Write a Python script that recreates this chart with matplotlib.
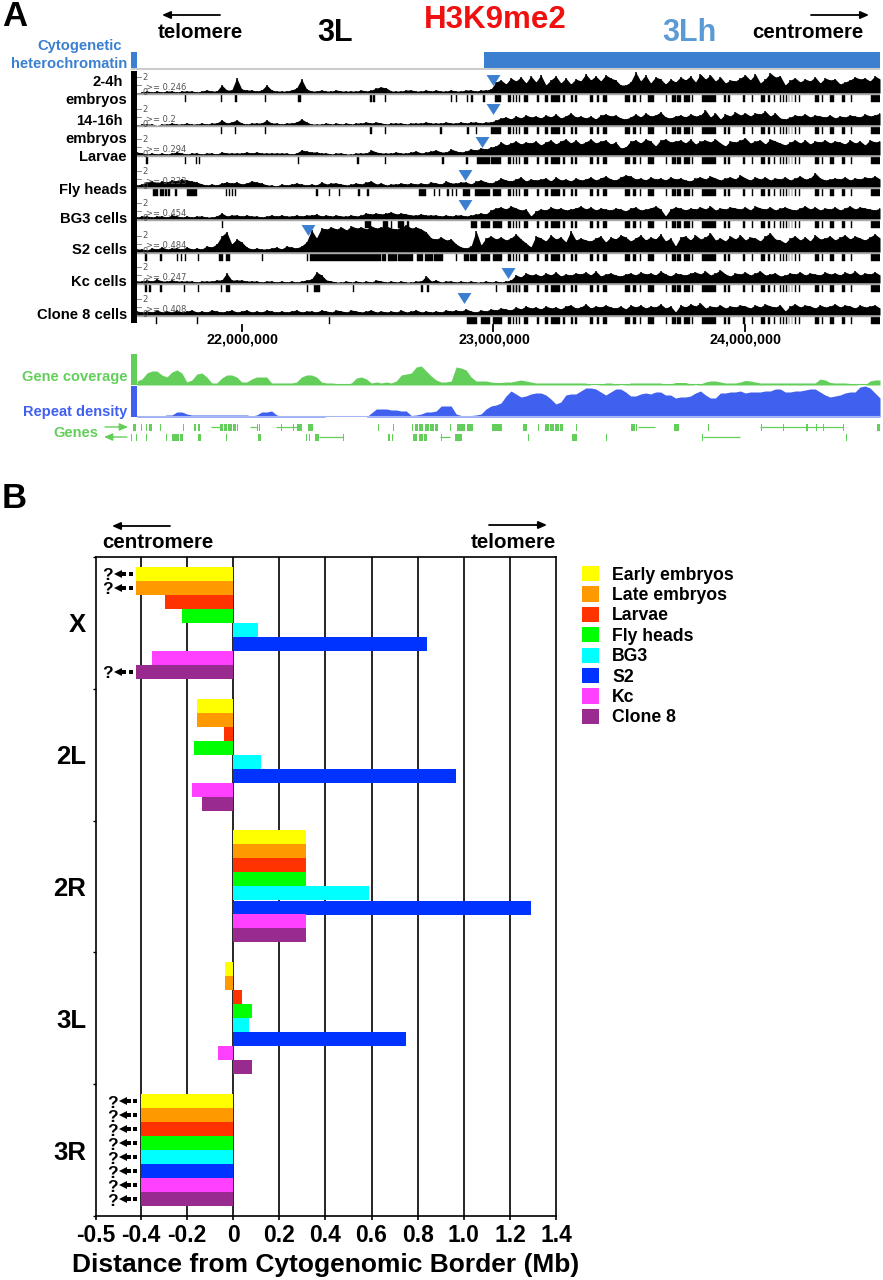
"""
H3K9me2 enrichment at the euchromatin / heterochromatin border.

A. ChIP signal across the 3L border for eight samples, with gene and repeat tracks
B. Distance of the enrichment border from the cytogenomic border on each arm
"""

import numpy as np
import matplotlib
matplotlib.use("Agg")
import matplotlib.pyplot as plt
from matplotlib.patches import Patch

plt.rcParams["font.family"] = ["Liberation Sans", "DejaVu Sans"]
plt.rcParams["font.weight"] = "bold"
plt.rcParams["axes.labelweight"] = "bold"

W, H = 883, 1280

# panel A, signal heights along 3L (16 = the top of the 0-2 scale)
signal_1 = [0,1,2,1,2,1,2,2,1,2, 2,2,1,2,3,2,2,8,3,3, 15,4,3,3,2,3,8,3,2,2, 2,3,5,14,4,2,2,3,2,2,
            3,2,2,2,2,3,2,3,5,6, 5,2,2,2,3,3,2,2,3,2, 3,2,2,3,2,2,3,3,2,3, 3,4,11,13,9,15,12,16,10,17,
            11,18,8,13,17,10,15,9,14,12, 19,13,17,12,18,15,13,8,8,11, 21,12,18,10,16,14,9,14,11,16,
            13,17,11,19,14,18,12,16,10,13, 12,15,18,13,19,10,14,20,16,17, 8,13,15,11,14,12,16,10,15,13,
            14,9,11,13,16,14,15,12,17,14]
signal_2 = [0,1,1,1,0,1,1,2,1,1, 2,1,1,2,1,2,2,5,2,3, 5,2,1,2,2,2,5,2,2,1, 2,2,3,6,3,1,1,1,2,1,
            2,1,2,1,2,2,3,2,3,2, 1,2,2,2,1,2,2,2,3,2, 2,2,3,2,2,3,2,3,3,2, 3,3,5,7,8,6,9,7,10,8,
            9,7,10,8,11,7,9,12,8,9, 7,9,6,10,11,9,10,7,6,8, 11,8,12,9,10,13,8,7,9,10,
            8,11,9,10,15,8,12,6,11,9, 13,10,12,9,12,11,14,9,12,7, 6,8,10,9,11,8,10,9,8,10,
            7,9,8,10,9,8,11,9,10,12]
signal_3 = [3,2,1,2,1,2,1,2,3,2, 1,2,2,1,2,2,1,3,2,2, 2,2,3,2,3,2,2,2,2,2, 2,1,2,5,4,3,3,2,2,1,
            2,2,1,1,2,2,2,5,3,2, 2,2,3,2,2,3,4,2,3,4, 5,3,3,6,4,3,4,6,5,7, 6,8,9,13,10,12,14,11,13,12,
            14,10,13,15,11,14,16,12,15,11, 13,16,12,14,15,11,13,7,8,14, 15,12,16,14,9,15,16,13,14,15,
            12,16,11,14,15,13,16,12,9,14, 13,15,17,12,14,15,11,16,14,12, 10,13,15,12,15,11,14,13,15,12,
            14,13,11,15,12,14,10,15,13,14]
signal_4 = [2,3,5,6,4,6,5,7,6,8, 7,6,5,3,2,3,2,4,5,4, 5,3,4,6,5,4,2,2,1,3, 2,3,4,3,2,3,2,5,3,4,
            4,3,2,3,4,3,5,6,3,4, 2,3,3,4,3,4,3,4,3,5, 4,3,6,4,4,5,5,3,6,7, 5,4,6,9,7,6,8,10,6,8,
            7,8,9,6,10,7,8,6,9,7, 8,10,7,9,11,8,7,10,12,11, 8,9,7,10,8,9,7,10,8,9,
            7,6,9,10,8,11,9,7,9,10, 8,12,9,7,10,8,10,7,9,8, 10,7,9,11,8,9,14,9,7,8,
            9,8,10,7,9,8,10,9,11,8]
signal_5 = [2,3,3,2,3,3,2,4,3,2, 3,2,3,3,2,2,3,6,3,4, 4,3,4,3,3,2,3,4,3,4, 3,3,4,3,4,4,5,3,4,3,
            4,3,3,4,3,4,6,5,6,5, 6,7,5,6,5,4,4,5,4,4, 4,3,4,3,4,4,3,4,5,6, 5,9,11,12,10,13,11,9,10,3,
            8,10,9,12,10,11,9,10,11,13, 10,12,9,11,10,9,11,10,8,11, 12,9,10,11,13,10,3,10,12,11,
            9,11,10,12,10,13,9,11,10,12, 11,10,12,9,13,11,10,12,9,11, 12,10,9,11,13,10,12,9,11,10,
            12,9,11,13,10,12,11,10,9,11]
signal_6 = [3,3,2,4,3,5,3,4,4,3, 5,3,4,3,6,5,8,16,20,8, 13,10,5,3,4,3,3,4,5,3, 6,5,4,6,10,22,14,24,23,25,
            23,25,22,26,24,25,23,26,24,25, 26,24,23,25,27,24,25,23,20,14, 13,15,12,13,8,5,4,6,21,7,
            14,16,13,15,12,14,18,13,9,5, 16,14,11,17,13,15,10,21,12,14, 12,11,14,16,10,15,13,17,15,11,
            14,17,12,15,13,18,11,14,6,15, 16,12,17,13,15,19,12,14,11,16, 13,17,12,15,14,11,16,19,13,12,
            9,14,16,12,15,11,17,13,14,16, 12,15,17,13,16,14,12,15,18,14]
signal_7 = [2,2,3,2,4,2,2,3,2,2, 2,2,1,2,2,2,3,3,10,3, 3,3,2,2,2,1,2,2,1,2, 1,2,1,2,3,4,11,8,3,2,
            1,1,2,1,2,1,2,1,3,2, 1,2,1,2,1,1,2,2,7,2, 3,1,2,2,1,2,1,2,1,1, 2,1,2,1,2,3,8,6,10,8,
            9,7,10,8,11,7,9,8,10,9, 11,8,12,7,9,10,8,7,9,10, 8,11,9,10,8,12,9,7,10,9,
            8,10,11,9,12,8,10,13,9,7, 10,9,11,8,10,12,8,9,10,7, 8,10,9,11,8,10,9,8,11,9,
            10,8,11,9,12,8,10,9,11,8]
signal_8 = [4,3,4,3,5,3,4,3,5,3, 4,5,3,4,3,5,4,3,4,5, 3,4,5,3,4,3,5,4,3,4, 3,4,5,3,4,4,3,5,4,3,
            5,4,3,5,4,3,4,5,3,4, 3,4,3,5,3,4,5,3,4,3, 4,3,5,4,5,4,6,4,3,5, 4,6,5,7,6,5,8,6,9,7,
            8,6,9,7,8,6,9,10,7,8, 11,7,9,8,10,8,7,9,6,10, 8,10,7,9,8,11,7,9,3,10,
            8,11,9,12,7,9,8,10,7,9, 8,10,9,7,10,8,11,9,8,10, 4,9,11,8,10,9,7,10,8,9,
            11,8,10,9,7,10,8,9,10,7]

# enriched regions in Mb, (start, end)
blocks_1 = [(21.773,21.778),(21.916,21.921),(21.975,21.980),(22.091,22.096),(22.223,22.234),(22.510,22.518),(22.522,22.530),
            (22.570,22.575),(22.830,22.835),(22.850,22.855),(22.895,22.900),(22.913,22.918),(22.961,22.966),(23.007,23.030)]
blocks_2 = [(21.916,21.921),(21.975,21.979),(22.091,22.096),(22.512,22.517),(22.570,22.574),(22.790,22.795),(22.897,22.902),
            (22.933,22.937),(22.990,23.030)]
blocks_3 = [(21.620,21.628),(21.773,21.777),(21.820,21.824),(21.830,21.834),(22.222,22.227),(22.460,22.465),(22.568,22.573),
            (22.798,22.803),(22.893,22.898),(22.935,22.985),(22.990,23.030)]
blocks_4 = [(21.647,21.667),(21.675,21.691),(21.695,21.703),(21.709,21.715),(21.736,21.741),(21.783,21.822),(21.938,21.942),
            (21.950,21.954),(21.961,21.965),(21.973,21.977),(22.297,22.302),(22.349,22.353),(22.385,22.389),(22.464,22.469),
            (22.500,22.505),(22.705,22.733),(22.766,22.770),(22.786,22.790),(22.818,22.823),(22.834,22.838),(22.850,22.855),
            (22.880,22.907),(22.927,22.987),(22.999,23.030)]
blocks_5 = [(21.920,21.925),(22.490,22.514),(22.562,22.581),(22.592,22.598),(22.620,22.645),(22.659,22.664),
            (22.911,22.935),(22.951,22.987),(22.999,23.034)]
blocks_6 = [(21.617,21.623),(21.677,21.682),(21.741,21.746),(21.757,21.762),(21.773,21.778),(21.828,21.832),(21.910,21.926),
            (21.938,21.954),(22.079,22.084),(22.258,22.265),(22.271,22.554),(22.558,22.574),(22.581,22.617),(22.621,22.681),
            (22.697,22.720),(22.728,22.760),(22.764,22.800),(22.850,22.855),(22.884,22.904),(22.907,22.935),(22.951,22.987),(22.999,23.034)]
blocks_7 = [(21.617,21.623),(21.633,21.639),(21.677,21.683),(21.769,21.773),(21.828,21.832),(21.916,21.921),(21.938,21.954),
            (22.258,22.262),(22.287,22.311),(22.444,22.448),(22.714,22.719),(22.738,22.743),(23.009,23.013),(23.056,23.060),
            (23.079,23.083),(23.092,23.096),(23.103,23.107)]
blocks_8 = [(21.661,21.665),(21.824,21.828),(22.349,22.353),(22.895,22.935),(22.951,22.987),(22.999,23.034)]

# enriched regions found in every sample
common_blocks = [(23.057,23.070),(23.123,23.139),(23.172,23.183),(23.205,23.219),(23.229,23.265),(23.278,23.286),
                 (23.309,23.318),(23.325,23.334),(23.384,23.397),(23.411,23.419),(23.437,23.450),(23.523,23.543),
                 (23.556,23.567),(23.583,23.587),(23.616,23.640),(23.685,23.689),(23.711,23.726),(23.730,23.745),
                 (23.759,23.782),(23.791,23.795),(23.831,23.885),(23.918,23.925),(23.934,23.939),(23.994,24.000),
                 (24.027,24.033),(24.066,24.080),(24.093,24.100),(24.117,24.121),(24.139,24.142),(24.152,24.155),
                 (24.163,24.166),(24.174,24.177),(24.186,24.189),(24.199,24.202),(24.216,24.219),(24.278,24.294),
                 (24.305,24.311),(24.338,24.354),(24.384,24.397),(24.422,24.426),(24.500,24.537)]
dense_blocks = [(23.079,23.084),(23.090,23.095),(23.101,23.106)]

sample_names = ["2-4h", "14-16h", "Larvae", "Fly heads", "BG3 cells", "S2 cells", "Kc cells", "Clone 8 cells"]
sample_cutoffs = ["0.246", "0.2", "0.294", "0.233", "0.454", "0.484", "0.247", "0.408"]
border_mb = [22.999, 22.999, 22.955, 22.888, 22.888, 22.264, 23.058, 22.884]

heterochromatin_start = 22.962

# height of the gene coverage and repeat density profiles
gene_coverage = [4,6,12,14,14,10,8,13,15,12, 3,5,11,12,8,2,2,7,10,10, 8,3,3,6,8,8,8,2,2,2,
                 2,2,3,8,10,10,8,3,2,2, 1.5,1,1,2,7,8,6,2,3,2, 3,2,4,10,11,12,18,19,14,9,
                 5,3,3,4,18,17,15,8,4,4, 4,3,2.5,2.5,3,3,4,5,4,3, 2,2,2,2,2,2,2,2,2,2,
                 2,0,0,0.5,2,2,1,0,0.5,2, 2,2,2,2,2,2,0.5,1,2.5,2.5, 2.5,1,0,1,3,4,4,3,2,2,
                 2,3,4.5,4,3,2,2,2,2,2, 2,2,2,2,2,2,2,6,5,2.5, 2,2,2,1.5,0.5,0,0,4,5,5]
repeat_density = [1,1,1,1,1,1,2,2,5,5, 3,2,2,2,2,2,2,2,2,2, 2,2,2,1,2,5,5,6,2,1,
                  1,1,1,1,1,1,1,1,0,0, 0,0,0,0,0,0,0,4,8,8, 8,7,7,6,6,1.5,2,3,5,5,
                  6,11,11,11,3,1.5,1.5,1.5,2,3, 8,11,12,14,21,26,23,20,21,23, 24,24,22,18,13,15,22,23,23,26,
                  29,29,28,25,22,25,28,28,25,21, 21,23,24,23,25,25,22,22,19,20, 20,21,24,26,22,19,19,24,24,25,
                  25,26,24,25,25,25,26,26,28,28, 25,25,26,26,27,28,28,25,22,20, 21,22,24,25,25,30,31,29,24,19]

genes_plus = [(21.569,21.579),(21.601,21.603),(21.610,21.612),(21.621,21.623),(21.630,21.643),(21.654,21.656),(21.663,21.665),
              (21.677,21.679),(21.727,21.729),(21.738,21.740),(21.754,21.756),(21.767,21.769),(21.811,21.820),(21.825,21.834),
              (21.914,21.925),(21.930,21.940),(21.947,21.960),(21.966,21.976),(21.980,21.986),(22.061,22.063),(22.069,22.071),
              (22.079,22.081),(22.158,22.160),(22.184,22.186),(22.204,22.206),(22.221,22.238),(22.265,22.285),(22.323,22.325),
              (22.453,22.455),(22.466,22.468),(22.542,22.544),(22.602,22.604),(22.641,22.643),(22.675,22.681),(22.688,22.700),
              (22.705,22.720),(22.730,22.745),(22.750,22.765),(22.770,22.780),(22.829,22.831),(22.854,22.887),(22.894,22.920),
              (22.939,22.941),(22.959,22.961),(22.979,22.981),(22.993,23.033),(23.081,23.083),(23.094,23.096),(23.119,23.135),
              (23.178,23.180),(23.205,23.220),(23.225,23.240),(23.245,23.260),(23.265,23.278),(23.330,23.332),(23.546,23.563),
              (23.569,23.571),(23.642,23.644),(23.720,23.738),(23.855,23.857),(23.999,24.001),(24.019,24.021),(24.066,24.068),
              (24.099,24.101),(24.139,24.141),(24.152,24.154),(24.199,24.201),(24.242,24.252),(24.284,24.286),(24.311,24.313),
              (24.337,24.339),(24.390,24.392),(24.476,24.478),(24.524,24.537)]
introns_plus = [(21.880,21.914),(22.033,22.062),(22.136,22.221),(23.576,23.643),(24.060,24.391)]
genes_minus = [(21.561,21.563),(21.581,21.583),(21.621,21.623),(21.634,21.636),(21.663,21.665),(21.674,21.676),(21.701,21.703),
               (21.725,21.750),(21.755,21.768),(21.827,21.840),(21.939,21.941),(22.025,22.027),(22.066,22.077),(22.257,22.259),
               (22.268,22.270),(22.291,22.308),(22.343,22.345),(22.403,22.405),(22.453,22.455),(22.493,22.495),(22.583,22.590),
               (22.596,22.603),(22.648,22.650),(22.682,22.695),(22.705,22.720),(22.725,22.735),(22.787,22.790),(22.794,22.796),
               (22.820,22.822),(22.848,22.874),(22.946,22.948),(23.089,23.091),(23.138,23.140),(23.311,23.331),(23.449,23.451),
               (23.571,23.573),(23.831,23.833),(23.849,23.851),(23.869,23.871),(23.889,23.891),(23.904,23.906),(23.979,23.981),
               (23.999,24.001),(24.278,24.280),(24.403,24.405),(24.516,24.518)]
introns_minus = [(22.308,22.404),(22.788,22.828),(23.832,23.980)]

# panel B, border distance in Mb per arm and sample
arm_names = ["X", "2L", "2R", "3L", "3R"]
stage_names = ["Early embryos", "Late embryos", "Larvae", "Fly heads", "BG3", "S2", "Kc", "Clone 8"]
stage_colors = ["#ffff00", "#ff9900", "#ff3300", "#00ff00", "#00ffff", "#0033ff", "#ff40ff", "#992a90"]
dist_x = [-0.42, -0.42, -0.295, -0.22, 0.107, 0.84, -0.35, -0.42]
dist_2l = [-0.158, -0.158, -0.04, -0.168, 0.119, 0.968, -0.18, -0.136]
dist_2r = [0.314, 0.314, 0.314, 0.314, 0.587, 1.292, 0.314, 0.314]
dist_3l = [-0.036, -0.036, 0.04, 0.08, 0.07, 0.751, -0.067, 0.08]
dist_3r = [-0.4, -0.4, -0.4, -0.4, -0.4, -0.4, -0.4, -0.4]
# rows whose border lies beyond the end of the assembly
open_x = [0, 1, 7]
open_3r = [0, 1, 2, 3, 4, 5, 6, 7]

xtick_pos = [-0.595, -0.4, -0.2, 0, 0.2, 0.4, 0.6, 0.8, 1.0, 1.2, 1.4]
xtick_labels = ["-0.5", "-0.4", "-0.2", "0", "0.2", "0.4", "0.6", "0.8", "1.0", "1.2", "1.4"]

MB_LEFT, MB_RIGHT = 21.584, 24.537
BLUE = "#3a7fd0"
GREEN = "#63cf5a"
REPEAT = "#4060f0"


def AddPanel(fig, x0, y0, x1, y1):
	# axes placed by pixel box, y measured from the top of the figure
	ax = fig.add_axes([x0 / W, 1 - y1 / H, (x1 - x0) / W, (y1 - y0) / H])
	ax.set_xlim(MB_LEFT, MB_RIGHT)
	ax.axis("off")
	return ax


def DrawTrack(fig, baseline, signal, blocks, cutoff):
	ax = AddPanel(fig, 137, baseline - 30, 880, baseline + 10)
	ax.set_ylim(-10, 30)
	x = np.linspace(MB_LEFT, MB_RIGHT, len(signal))
	# solid profile with a narrow spike at every sample
	ax.fill_between(x, 0, signal, color="black", lw=0)
	ax.vlines(x, 0, signal, color="black", lw=1.1)
	ax.axhline(-0.6, color="#aaaaaa", lw=1)
	spans = [(a, b - a) for a, b in blocks + common_blocks + dense_blocks if a < MB_RIGHT]
	ax.broken_barh(spans, (-8.7, 6.7), color="black", lw=0.3)
	for level in [0, 8, 16]:
		ax.plot([MB_LEFT, MB_LEFT + 0.016], [level, level], color="#888888", lw=0.7)
	small = dict(color="#555555", family="DejaVu Sans", weight="normal", fontsize=6, va="center")
	ax.text(MB_LEFT + 0.022, 16, "2", **small)
	ax.text(MB_LEFT + 0.022, 0.5, "0", **small)
	ax.text(MB_LEFT + 0.036, 6, ">= " + cutoff, **small)
	return ax


def DrawGenes(ax, exons, introns, level):
	ax.hlines([level] * len(introns), [a for a, b in introns], [b for a, b in introns], color=GREEN, lw=0.9)
	ax.broken_barh([(a, b - a) for a, b in exons], (level - 3.5, 7), color=GREEN, lw=0)


def DrawPanelA(fig, lay):
	# heterochromatin bar
	ax = AddPanel(fig, 131, 52, 880, 70)
	ax.set_xlim(MB_LEFT - 6 / 251.6, MB_RIGHT)
	ax.set_ylim(0, 1)
	ax.axhline(0.06, color="#cccccc", lw=1.5)
	ax.axvspan(MB_LEFT - 6 / 251.6, MB_LEFT, color=BLUE, lw=0)
	ax.axvspan(heterochromatin_start, MB_RIGHT, ymin=0.06, color=BLUE, lw=0)

	signals = [signal_1, signal_2, signal_3, signal_4, signal_5, signal_6, signal_7, signal_8]
	blocks = [blocks_1, blocks_2, blocks_3, blocks_4, blocks_5, blocks_6, blocks_7, blocks_8]
	baselines = [93, 125, 155, 187, 219, 252, 283, 315]
	marker_y = [79.5, 108.5, 141.5, 174.5, 204.5, 229.5, 272.5, 297.5]
	lay.add_patch(plt.Rectangle((131, 71), 6, 252, color="black", lw=0))
	triangle = [(-7, 5.5), (7, 5.5), (0, -5.5)]
	for i in range(8):
		ax = DrawTrack(fig, baselines[i], signals[i], blocks[i], sample_cutoffs[i])
		px = 137 + (border_mb[i] - MB_LEFT) / (MB_RIGHT - MB_LEFT) * 743
		lay.plot(px, marker_y[i], marker=triangle, ms=10, color=BLUE, mew=0)

	# coverage profiles
	x = np.linspace(MB_LEFT, MB_RIGHT, len(gene_coverage))
	ax = AddPanel(fig, 137, 355, 880, 385)
	ax.set_ylim(0, 30)
	ax.fill_between(x, 0, gene_coverage, color=GREEN, lw=0)
	ax.axhline(0, color=GREEN, lw=1.5)
	lay.add_patch(plt.Rectangle((131, 354), 6, 31, color=GREEN, lw=0))

	ax = AddPanel(fig, 137, 386, 880, 417)
	ax.set_ylim(0, 31)
	ax.fill_between(x, 0, repeat_density, color=REPEAT, lw=0)
	ax.axhline(0, color="#a9b6f5", lw=1.5)
	lay.add_patch(plt.Rectangle((131, 386), 6, 31, color=REPEAT, lw=0))

	# gene models
	ax = AddPanel(fig, 131, 422, 880, 442)
	ax.set_xlim(MB_LEFT - 6 / 251.6, MB_RIGHT)
	ax.set_ylim(0, 20)
	DrawGenes(ax, genes_plus, introns_plus, 15)
	DrawGenes(ax, genes_minus, introns_minus, 5)

	# genome coordinate ruler
	for mb, label in [(22, "22,000,000"), (23, "23,000,000"), (24, "24,000,000")]:
		px = 137 + (mb - MB_LEFT) / (MB_RIGHT - MB_LEFT) * 743
		lay.plot([px, px], [325, 331], color="black", lw=1.3)
		lay.text(px + 1, 339, label, ha="center", va="center", fontsize=10.3)

	# sample names
	label_y = [82, 121, 157, 190, 219, 250, 282, 315]
	for name, y in zip(sample_names, label_y):
		right = 123 if name.endswith("h") else 127
		lay.text(right, y, name, ha="right", va="center", fontsize=10.6)
	lay.text(127, 100, "embryos", ha="right", va="center", fontsize=10.6)
	lay.text(127, 139, "embryos", ha="right", va="center", fontsize=10.6)
	lay.text(122, 46, "Cytogenetic", ha="right", va="center", fontsize=10.6, color=BLUE)
	lay.text(127, 64, "heterochromatin", ha="right", va="center", fontsize=10.6, color=BLUE)
	lay.text(127, 377, "Gene coverage", ha="right", va="center", fontsize=10.5, color=GREEN)
	lay.text(127, 412, "Repeat density", ha="right", va="center", fontsize=10.5, color=REPEAT)
	lay.text(98, 433, "Genes", ha="right", va="center", fontsize=10.5, color=GREEN)
	DrawArrow(lay, 105, 427, 128, 427, GREEN, 1.0)
	DrawArrow(lay, 127, 437, 104, 437, GREEN, 1.0)

	# headings
	lay.text(2, 16, "A", ha="left", va="center", fontsize=25)
	lay.text(335, 33, "3L", ha="center", va="center", fontsize=22)
	lay.text(495, 20, "H3K9me2", ha="center", va="center", fontsize=22.5, color="#f01010")
	lay.text(689, 33, "3Lh", ha="center", va="center", fontsize=22, color="#5b9bd5")
	lay.text(200, 32, "telomere", ha="center", va="center", fontsize=14.8)
	lay.text(808, 32, "centromere", ha="center", va="center", fontsize=14.8)
	DrawArrow(lay, 220, 15, 162, 15, "black", 1.3)
	DrawArrow(lay, 811, 15, 869, 15, "black", 1.3)


def DrawArrow(lay, x0, y0, x1, y1, color, lw):
	lay.annotate("", xy=(x1, y1), xytext=(x0, y0),
		arrowprops=dict(arrowstyle="-|>,head_length=0.5,head_width=0.22", color=color, lw=lw, shrinkA=0, shrinkB=0))


def DrawPanelB(fig, lay):
	ax = fig.add_axes([96 / W, 1 - 1216 / H, 460 / W, 659 / H])
	ax.set_xlim(-0.595, 1.396)
	ax.set_ylim(4.5, -0.5)
	ax.set_axisbelow(True)

	bar_h = 14 / 131.8
	rows = [dist_x, dist_2l, dist_2r, dist_3l, dist_3r]
	for pos in xtick_pos[1:-1]:
		ax.axvline(pos, color="black", lw=1.2, zorder=1)
	for a, values in enumerate(rows):
		for s, value in enumerate(values):
			ax.barh(a + (s - 3.5) * bar_h, value, height=bar_h, color=stage_colors[s], lw=0, zorder=2)

	# open-ended rows get a ? and a dashed arrow
	for a, values, opened in [(0, dist_x, open_x), (4, dist_3r, open_3r)]:
		for s in opened:
			y = a + (s - 3.5) * bar_h
			end = values[s]
			ax.text(end - 0.125, y + 0.015, "?", ha="center", va="center", fontsize=12.5, color="black")
			ax.plot(end - 0.08, y, marker="<", ms=5.5, color="black", mew=0, zorder=3)
			ax.plot([end - 0.052, end - 0.024], [y, y], ls="none", marker="s", ms=2.4, color="black", mew=0, zorder=3)

	ax.set_xticks(xtick_pos)
	ax.set_xticklabels(xtick_labels, fontsize=16.5)
	ax.set_yticks(range(5))
	ax.set_yticklabels(arm_names, fontsize=18.5)
	ax.set_yticks([-0.5, 0.5, 1.5, 2.5, 3.5, 4.5], minor=True)
	ax.tick_params(axis="y", which="major", length=0, pad=7)
	ax.tick_params(axis="y", which="minor", length=2, width=1)
	ax.tick_params(axis="x", length=3, width=1.2, pad=3)
	for side in ax.spines.values():
		side.set_linewidth(1.2)
	ax.set_xlabel("Distance from Cytogenomic Border (Mb)", fontsize=19, labelpad=4)

	handles = [Patch(color=c, lw=0) for c in stage_colors]
	ax.legend(handles, stage_names, loc="upper left", bbox_to_anchor=(582 / W, 1 - 566 / H),
		bbox_transform=fig.transFigure, frameon=False, fontsize=12.7, borderpad=0, borderaxespad=0,
		handlelength=0.95, handleheight=0.95, handletextpad=0.75, labelspacing=0.155)

	lay.text(2, 499, "B", ha="left", va="center", fontsize=25)
	lay.text(158, 542, "centromere", ha="center", va="center", fontsize=14.8)
	lay.text(513, 542, "telomere", ha="center", va="center", fontsize=14.8)
	DrawArrow(lay, 170, 526, 112, 526, "black", 1.3)
	DrawArrow(lay, 489, 525, 547, 525, "black", 1.3)


def main():
	fig = plt.figure(figsize=(W / 100, H / 100), dpi=100)
	# full-figure layer in pixel units for headings and side labels
	lay = fig.add_axes([0, 0, 1, 1], zorder=10)
	lay.set_xlim(0, W)
	lay.set_ylim(H, 0)
	lay.axis("off")
	DrawPanelA(fig, lay)
	DrawPanelB(fig, lay)
	fig.savefig("out.png", dpi=100)


if __name__ == "__main__":
	main()
